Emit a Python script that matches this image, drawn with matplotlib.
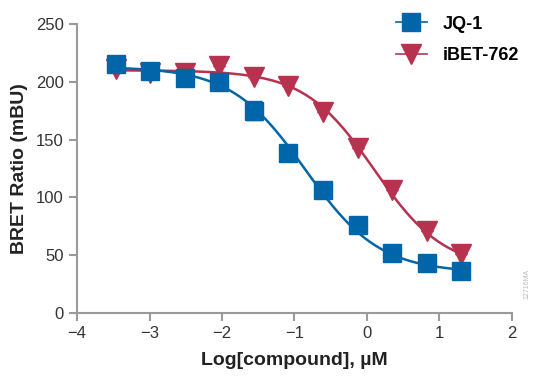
import numpy as np
import matplotlib
matplotlib.use("Agg")
import matplotlib.pyplot as plt
from matplotlib.lines import Line2D

# 3-fold dilutions from 20 uM, log10 scale
log_conc = [-3.469, -2.992, -2.515, -2.038, -1.561, -1.084, -0.607, -0.130, 0.347, 0.824, 1.301]

jq1 = [215, 209, 203, 200, 175, 138, 106, 76, 52, 43, 36]
jq1_err = [1, 1, 1, 1, 8, 1, 1, 1, 1, 1, 1]
ibet = [211, 208, 208, 214, 204, 196, 174, 143, 106, 71, 51]
ibet_err = [0, 0, 0, 0, 0, 0, 0, 0, 0, 0, 0]

# fitted 4PL parameters (top, bottom, logIC50, hill)
jq1_fit = [213, 35, -0.85, 0.85]
ibet_fit = [210, 38, 0.10, 0.90]

blue = "#0065A9"
red = "#B7324E"
gray = "#9a9a9a"

plt.rcParams['font.family'] = ['Liberation Sans Narrow', 'Liberation Sans', 'DejaVu Sans']

def fourpl(x, p):
    top, bottom, c, h = p
    return bottom + (top - bottom) / (1 + 10 ** ((x - c) * h))

fig = plt.figure(figsize=(5.33, 3.78), dpi=100)
ax = fig.add_axes([0.1445, 0.172, 0.816, 0.7645])

xs = np.linspace(log_conc[0], log_conc[-1], 200)
ax.plot(xs, fourpl(xs, ibet_fit), color=red, lw=1.8, zorder=2)
ax.plot(xs, fourpl(xs, jq1_fit), color=blue, lw=1.8, zorder=3)

ax.errorbar(log_conc, ibet, yerr=ibet_err, fmt='v', color=red, ms=14,
            ecolor=red, elinewidth=1, capsize=4, zorder=4)
ax.errorbar(log_conc, jq1, yerr=jq1_err, fmt='s', color=blue, ms=13,
            ecolor=blue, elinewidth=1, capsize=6, zorder=5)

ax.set_xlim(-4, 2)
ax.set_ylim(0, 250)
ax.set_xticks(range(-4, 3))
ax.set_xticklabels(['\u22124', '\u22123', '\u22122', '\u22121', '0', '1', '2'])
ax.set_yticks(range(0, 251, 50))

for s in ['top', 'right']:
    ax.spines[s].set_visible(False)
for s in ['left', 'bottom']:
    ax.spines[s].set_color(gray)
    ax.spines[s].set_linewidth(1.5)
ax.tick_params(colors=gray, width=1.5, length=6, labelsize=12, labelcolor='#333333')

ax.set_xlabel('Log[compound], \u00b5M', fontsize=14, fontweight='bold', color='#222222', labelpad=8)
ax.set_ylabel('BRET Ratio (mBU)', fontsize=14, fontweight='bold', color='#222222', labelpad=6)

handles = [Line2D([], [], color=blue, marker='s', ms=13, lw=1.2),
           Line2D([], [], color=red, marker='v', ms=14, lw=1.2)]
ax.legend(handles, ['JQ-1', 'iBET-762'], loc='upper left', bbox_to_anchor=(0.695, 1.085),
          frameon=False, handlelength=1.75, handletextpad=0.85, labelspacing=0.8,
          prop={'weight': 'bold', 'size': 13})

fig.text(0.988, 0.25, '12716MA', rotation=90, fontsize=5, color='#bbbbbb', ha='center', va='center')

fig.savefig('out.png', dpi=100)
